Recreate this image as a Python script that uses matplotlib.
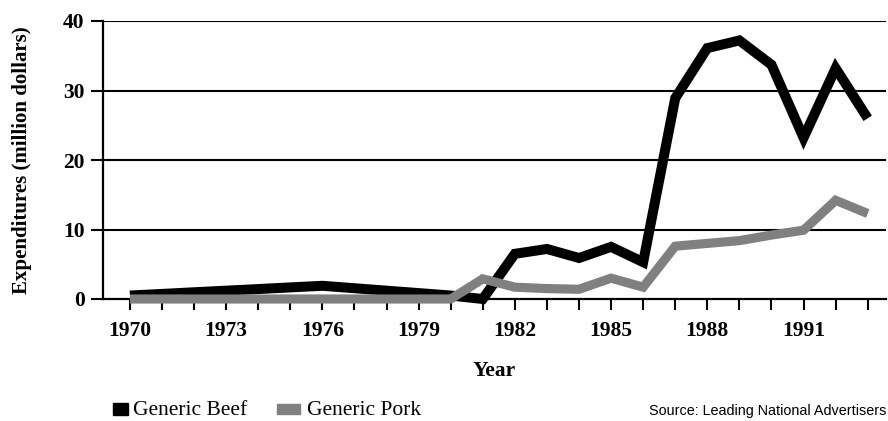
import matplotlib
matplotlib.use("Agg")
import matplotlib.pyplot as plt
from matplotlib.patches import Rectangle

years = list(range(1970, 1994))
beef = [0.5, 0.73, 0.97, 1.2, 1.43, 1.67, 1.9, 1.55, 1.2, 0.85, 0.5,
        0.0, 6.5, 7.2, 5.9, 7.5, 5.3, 28.9, 36.1, 37.2, 33.7, 23.2, 33.2, 26.0]
pork = [0, 0, 0, 0, 0, 0, 0, 0, 0, 0, 0,
        2.9, 1.7, 1.5, 1.4, 3.0, 1.7, 7.6, 8.0, 8.4, 9.2, 9.9, 14.2, 12.3]
year_ticks = list(range(1970, 1994))
year_labels = [str(y) if (y - 1970) % 3 == 0 and y <= 1991 else "" for y in year_ticks]
y_ticks = [0, 10, 20, 30, 40]
series_names = ["Generic Beef", "Generic Pork"]
source_text = "Source: Leading National Advertisers"

serif = ["Liberation Serif", "DejaVu Serif"]

fig = plt.figure(figsize=(8.88, 4.21), dpi=100)
ax = fig.add_axes([103.3 / 888, 1 - 299 / 421, (886 - 103.3) / 888, (299 - 21) / 421])

ax.plot(years, beef, color="black", lw=7.2, solid_joinstyle="miter",
        solid_capstyle="butt", clip_on=False, zorder=3)
ax.plot(years, pork, color="#808080", lw=6.6, solid_joinstyle="miter",
        solid_capstyle="butt", clip_on=False, zorder=4)

ax.set_xlim(1969.17, 1993.57)
ax.set_ylim(0, 40)
ax.set_yticks(y_ticks)
ax.set_yticklabels([str(v) for v in y_ticks])
ax.set_xticks(year_ticks)
ax.set_xticklabels(year_labels)

for v in y_ticks[1:]:
    ax.axhline(v, color="black", lw=1.5, zorder=1)

for s in ["top", "right"]:
    ax.spines[s].set_visible(False)
for s in ["left", "bottom"]:
    ax.spines[s].set_linewidth(1.6)
    ax.spines[s].set_color("black")

ax.tick_params(axis="y", direction="out", length=8.5, width=1.5, pad=5)
ax.tick_params(axis="x", direction="out", length=8, width=1.5, pad=8)
for lab in ax.get_xticklabels() + ax.get_yticklabels():
    lab.set_fontfamily(serif)
    lab.set_fontweight("bold")
    lab.set_fontsize(15.5)

ax.set_xlabel("Year", fontfamily=serif, fontweight="bold", fontsize=15.5, labelpad=14)
ax.set_ylabel("Expenditures (million dollars)", fontfamily=serif, fontweight="bold",
              fontsize=15, labelpad=22)

# legend
fig.patches.append(Rectangle((113 / 888, 1 - 415 / 421), 15 / 888, 12 / 421,
                             transform=fig.transFigure, color="black"))
fig.text(133 / 888, 1 - 415 / 421, series_names[0], fontfamily=serif, fontsize=15.5,
         va="baseline", ha="left")
fig.patches.append(Rectangle((277 / 888, 1 - 414 / 421), 23 / 888, 10 / 421,
                             transform=fig.transFigure, color="#808080"))
fig.text(307 / 888, 1 - 415 / 421, series_names[1], fontfamily=serif, fontsize=15.5,
         va="baseline", ha="left")

fig.text(886 / 888, 1 - 415 / 421, source_text, fontfamily=["Liberation Sans", "DejaVu Sans"],
         fontsize=10.4, va="baseline", ha="right")

fig.savefig("out.png", dpi=100)
